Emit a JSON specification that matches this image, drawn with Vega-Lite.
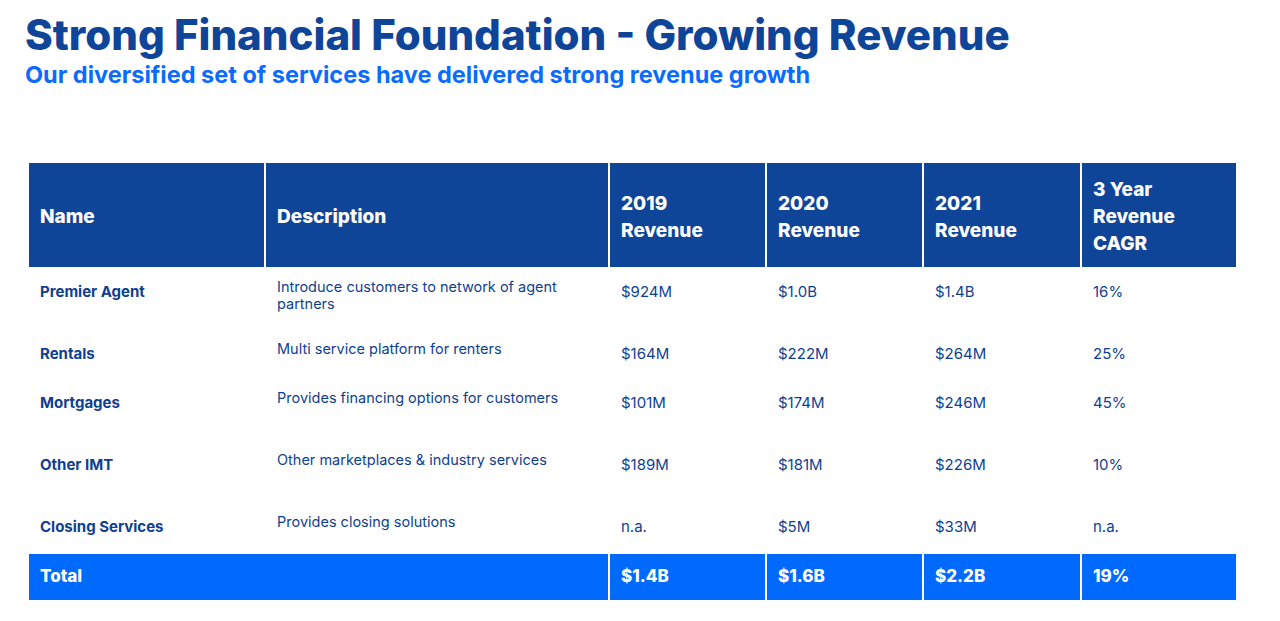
{
  "$schema": "https://vega.github.io/schema/vega-lite/v6.json",
  "width": 1280,
  "height": 521,
  "autosize": {"type": "none"},
  "padding": {"top": 100, "left": 0, "right": 0, "bottom": 0},
  "background": "white",
  "config": {"view": {"stroke": null}},
  "title": {
    "text": "Strong Financial Foundation - Growing Revenue",
    "subtitle": "Our diversified set of services have delivered strong revenue growth",
    "anchor": "start",
    "frame": "group",
    "dx": 25,
    "offset": 12,
    "font": "Inter",
    "fontSize": 42,
    "fontWeight": 800,
    "color": "#0E4598",
    "subtitleFont": "Inter",
    "subtitleFontSize": 23.5,
    "subtitleFontWeight": 700,
    "subtitleColor": "#0A6CFF",
    "subtitlePadding": 5
  },
  "datasets": {
    "cells": [
      {"kind": "header", "c0": 0, "c1": 1, "r0": 0, "r1": 1},
      {"kind": "header", "c0": 1, "c1": 2, "r0": 0, "r1": 1},
      {"kind": "header", "c0": 2, "c1": 3, "r0": 0, "r1": 1},
      {"kind": "header", "c0": 3, "c1": 4, "r0": 0, "r1": 1},
      {"kind": "header", "c0": 4, "c1": 5, "r0": 0, "r1": 1},
      {"kind": "header", "c0": 5, "c1": 6, "r0": 0, "r1": 1},
      {"kind": "total", "c0": 0, "c1": 2, "r0": 7, "r1": 8},
      {"kind": "total", "c0": 2, "c1": 3, "r0": 7, "r1": 8},
      {"kind": "total", "c0": 3, "c1": 4, "r0": 7, "r1": 8},
      {"kind": "total", "c0": 4, "c1": 5, "r0": 7, "r1": 8},
      {"kind": "total", "c0": 5, "c1": 6, "r0": 7, "r1": 8}
    ],
    "texts": [
      {"part": "header", "row": 0.5, "col": 0, "label": ["Name"]},
      {"part": "header", "row": 0.5, "col": 1, "label": ["Description"]},
      {"part": "header", "row": 0.5, "col": 2, "label": ["2019", "Revenue"]},
      {"part": "header", "row": 0.5, "col": 3, "label": ["2020", "Revenue"]},
      {"part": "header", "row": 0.5, "col": 4, "label": ["2021", "Revenue"]},
      {"part": "header", "row": 0.5, "col": 5, "label": ["3 Year", "Revenue", "CAGR"]},
      {"part": "name", "row": 2, "col": 0, "label": ["Premier Agent"]},
      {"part": "desc", "row": 2, "col": 1, "label": ["Introduce customers to network of agent", "partners"]},
      {"part": "value", "row": 2, "col": 2, "label": ["$924M"]},
      {"part": "value", "row": 2, "col": 3, "label": ["$1.0B"]},
      {"part": "value", "row": 2, "col": 4, "label": ["$1.4B"]},
      {"part": "value", "row": 2, "col": 5, "label": ["16%"]},
      {"part": "name", "row": 3, "col": 0, "label": ["Rentals"]},
      {"part": "desc", "row": 3, "col": 1, "label": ["Multi service platform for renters"]},
      {"part": "value", "row": 3, "col": 2, "label": ["$164M"]},
      {"part": "value", "row": 3, "col": 3, "label": ["$222M"]},
      {"part": "value", "row": 3, "col": 4, "label": ["$264M"]},
      {"part": "value", "row": 3, "col": 5, "label": ["25%"]},
      {"part": "name", "row": 4, "col": 0, "label": ["Mortgages"]},
      {"part": "desc", "row": 4, "col": 1, "label": ["Provides financing options for customers"]},
      {"part": "value", "row": 4, "col": 2, "label": ["$101M"]},
      {"part": "value", "row": 4, "col": 3, "label": ["$174M"]},
      {"part": "value", "row": 4, "col": 4, "label": ["$246M"]},
      {"part": "value", "row": 4, "col": 5, "label": ["45%"]},
      {"part": "name", "row": 5, "col": 0, "label": ["Other IMT"]},
      {"part": "desc", "row": 5, "col": 1, "label": ["Other marketplaces & industry services"]},
      {"part": "value", "row": 5, "col": 2, "label": ["$189M"]},
      {"part": "value", "row": 5, "col": 3, "label": ["$181M"]},
      {"part": "value", "row": 5, "col": 4, "label": ["$226M"]},
      {"part": "value", "row": 5, "col": 5, "label": ["10%"]},
      {"part": "name", "row": 6, "col": 0, "label": ["Closing Services"]},
      {"part": "desc", "row": 6, "col": 1, "label": ["Provides closing solutions"]},
      {"part": "value", "row": 6, "col": 2, "label": ["n.a."]},
      {"part": "value", "row": 6, "col": 3, "label": ["$5M"]},
      {"part": "value", "row": 6, "col": 4, "label": ["$33M"]},
      {"part": "value", "row": 6, "col": 5, "label": ["n.a."]},
      {"part": "total", "row": 7.5, "col": 0, "label": ["Total"]},
      {"part": "total", "row": 7.5, "col": 2, "label": ["$1.4B"]},
      {"part": "total", "row": 7.5, "col": 3, "label": ["$1.6B"]},
      {"part": "total", "row": 7.5, "col": 4, "label": ["$2.2B"]},
      {"part": "total", "row": 7.5, "col": 5, "label": ["19%"]}
    ]
  },
  "resolve": {"scale": {"x": "shared", "y": "shared"}},
  "layer": [
    {
      "data": {"name": "cells"},
      "mark": {"type": "rect", "stroke": "white", "strokeWidth": 2},
      "encoding": {
        "x": {"field": "c0", "type": "quantitative", "axis": null,
              "scale": {"domain": [0, 1, 2, 3, 4, 5, 6], "range": [28, 265, 609, 766, 923, 1081, 1237], "zero": false, "nice": false}},
        "x2": {"field": "c1"},
        "y": {"field": "r0", "type": "quantitative", "axis": null,
              "scale": {"domain": [0, 0.5, 1, 2, 3, 4, 5, 6, 7, 7.5, 8], "range": [62, 117, 168, 192, 254, 303, 365, 427, 453, 477, 501], "zero": false, "nice": false}},
        "y2": {"field": "r1"},
        "color": {"field": "kind", "type": "nominal", "legend": null,
                  "scale": {"domain": ["header", "total"], "range": ["#0E4598", "#006AFF"]}}
      }
    },
    {
      "data": {"name": "texts"},
      "transform": [{"filter": "datum.part == 'header' && length(datum.label) == 1"}],
      "mark": {"type": "text", "align": "left", "baseline": "middle", "dx": 12, "font": "Inter", "fontSize": 19, "fontWeight": 800, "color": "white", "lineHeight": 27},
      "encoding": {
        "x": {"field": "col", "type": "quantitative"},
        "y": {"field": "row", "type": "quantitative"},
        "text": {"field": "label"}
      }
    },
    {
      "data": {"name": "texts"},
      "transform": [{"filter": "datum.part == 'header' && length(datum.label) == 2"}],
      "mark": {"type": "text", "align": "left", "baseline": "middle", "dx": 12, "dy": -13.5, "font": "Inter", "fontSize": 19, "fontWeight": 800, "color": "white", "lineHeight": 27},
      "encoding": {
        "x": {"field": "col", "type": "quantitative"},
        "y": {"field": "row", "type": "quantitative"},
        "text": {"field": "label"}
      }
    },
    {
      "data": {"name": "texts"},
      "transform": [{"filter": "datum.part == 'header' && length(datum.label) == 3"}],
      "mark": {"type": "text", "align": "left", "baseline": "middle", "dx": 12, "dy": -27, "font": "Inter", "fontSize": 19, "fontWeight": 800, "color": "white", "lineHeight": 27},
      "encoding": {
        "x": {"field": "col", "type": "quantitative"},
        "y": {"field": "row", "type": "quantitative"},
        "text": {"field": "label"}
      }
    },
    {
      "data": {"name": "texts"},
      "transform": [{"filter": "datum.part == 'name'"}],
      "mark": {"type": "text", "align": "left", "baseline": "middle", "dx": 12, "font": "Inter", "fontSize": 15, "fontWeight": 700, "color": "#0E3F92"},
      "encoding": {
        "x": {"field": "col", "type": "quantitative"},
        "y": {"field": "row", "type": "quantitative"},
        "text": {"field": "label"}
      }
    },
    {
      "data": {"name": "texts"},
      "transform": [{"filter": "datum.part == 'desc'"}],
      "mark": {"type": "text", "align": "left", "baseline": "top", "dx": 12, "dy": -11, "font": "Inter", "fontSize": 14.5, "fontWeight": 400, "color": "#0E3F92", "lineHeight": 17},
      "encoding": {
        "x": {"field": "col", "type": "quantitative"},
        "y": {"field": "row", "type": "quantitative"},
        "text": {"field": "label"}
      }
    },
    {
      "data": {"name": "texts"},
      "transform": [{"filter": "datum.part == 'value'"}],
      "mark": {"type": "text", "align": "left", "baseline": "middle", "dx": 12, "font": "Inter", "fontSize": 15, "fontWeight": 400, "color": "#0E3F92"},
      "encoding": {
        "x": {"field": "col", "type": "quantitative"},
        "y": {"field": "row", "type": "quantitative"},
        "text": {"field": "label"}
      }
    },
    {
      "data": {"name": "texts"},
      "transform": [{"filter": "datum.part == 'total'"}],
      "mark": {"type": "text", "align": "left", "baseline": "middle", "dx": 12, "font": "Inter", "fontSize": 17, "fontWeight": 800, "color": "white"},
      "encoding": {
        "x": {"field": "col", "type": "quantitative"},
        "y": {"field": "row", "type": "quantitative"},
        "text": {"field": "label"}
      }
    }
  ]
}
